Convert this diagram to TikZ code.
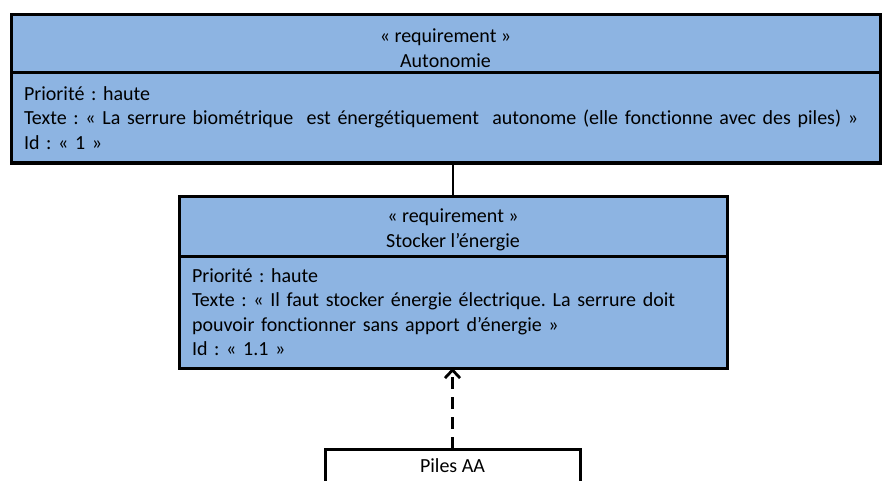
\documentclass[tikz,border=0pt]{standalone}
\usepackage{fontspec}
\setmainfont{Carlito}[Ligatures={NoCommon}]
\usetikzlibrary{arrows.meta}
\definecolor{reqblue}{RGB}{141,180,226}
\frenchspacing
\begin{document}
\begin{tikzpicture}[x=1pt,y=-1pt,
  every node/.style={font=\fontsize{20}{24.5}\selectfont, inner sep=0pt, outer sep=0pt},
  reqhead/.style={draw=black, line width=3pt, fill=reqblue, rectangle, anchor=north west},
  headtext/.style={align=center},
  reqbody/.style={draw=black, line width=3pt, fill=reqblue, rectangle, align=left, anchor=north west, inner xsep=13pt},
  blockbox/.style={draw=black, line width=3pt, fill=white, rectangle, anchor=north west},
  link/.style={line width=1.4pt, draw=black},
  realize/.style={line width=2.8pt, draw=black, dash pattern=on 12pt off 8pt, -{Straight Barb[length=8pt,width=15pt,line width=2.8pt]}}
]
\useasboundingbox (0,0) rectangle (882,481);

% Requirement "Autonomie"
\node[reqhead, minimum width=869pt, minimum height=58pt] (h1) at (11,15) {};
\node[headtext] (h1t) at ([yshift=-4pt]h1.center) {« requirement »\\Autonomie};
\node[reqbody, minimum width=869pt, minimum height=90pt, text width=843pt] (b1) at (h1.south west)
  {Priorité : haute\\Texte : « La serrure biométrique\ \ est énergétiquement\ \ autonome (elle fonctionne avec des piles) »\\Id : « 1 »};

% Requirement "Stocker l'énergie"
\node[reqhead, minimum width=548pt, minimum height=60pt] (h2) at (179,196) {};
\node[headtext] (h2t) at ([yshift=-4pt]h2.center) {« requirement »\\Stocker l’énergie};
\node[reqbody, minimum width=548pt, minimum height=112pt, text width=522pt] (b2) at (h2.south west)
  {Priorité : haute\\Texte : « Il faut stocker énergie électrique. La serrure doit\\pouvoir fonctionner sans apport d’énergie »\\Id : « 1.1 »};

% Block "Piles AA"
\node[blockbox, minimum width=255pt, minimum height=60pt] (p) at (325,449) {};
\node (plabel) at ([yshift=-17pt]p.north) {Piles AA};

% Connectors
\draw[link] (b1.south -| h2.north) -- (h2.north);
\draw[realize] (p.north) -- (b2.south -| p.north);
\end{tikzpicture}
\end{document}
